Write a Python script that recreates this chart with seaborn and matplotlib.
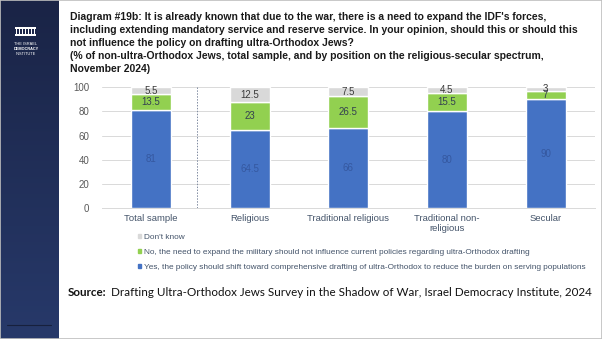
import numpy as np
import pandas as pd
import matplotlib
matplotlib.use("Agg")
import matplotlib.pyplot as plt
from matplotlib.patches import Rectangle
from matplotlib.colors import LinearSegmentedColormap
import seaborn as sns

# Survey results (% of non-ultra-Orthodox Jews)
categories = ["Total sample", "Religious", "Traditional religious",
              "Traditional non-\nreligious", "Secular"]
yes_vals = [81, 64.5, 66, 80, 90]
no_vals = [13.5, 23, 26.5, 15.5, 7]
dont_know_vals = [5.5, 12.5, 7.5, 4.5, 3]

series_labels = [
    "Yes, the policy should shift toward comprehensive drafting of ultra-Orthodox to reduce the burden on serving populations",
    "No, the need to expand the military should not influence current policies regarding ultra-Orthodox drafting",
    "Don't know",
]
y_ticks = [0, 20, 40, 60, 80, 100]

title_text = ("Diagram #19b: It is already known that due to the war, there is a need to expand the IDF's forces,\n"
              "including extending mandatory service and reserve service. In your opinion, should this or should this\n"
              "not influence the policy on drafting ultra-Orthodox Jews?\n"
              "(% of non-ultra-Orthodox Jews, total sample, and by position on the religious-secular spectrum,\n"
              "November 2024)")
source_bold = "Source:"
source_rest = "Drafting Ultra-Orthodox Jews Survey in the Shadow of War, Israel Democracy Institute, 2024"

BLUE = "#4472C4"
GREEN = "#92D050"
GREY = "#D9D9D9"
TEXT_BLUE = "#44546A"

sns.set_theme(style="white")
plt.rcParams["font.family"] = ["Liberation Sans", "DejaVu Sans"]

W, H = 602, 339
fig = plt.figure(figsize=(W / 100, H / 100), dpi=100)
fig.patch.set_facecolor("white")

# ---- left navy sidebar with logo ----
side = fig.add_axes([0, 0, 59 / W, 1])
grad = np.linspace(0, 1, 256).reshape(-1, 1)
navy = LinearSegmentedColormap.from_list("navy", ["#1a2446", "#27396a"])
side.imshow(grad, aspect="auto", cmap=navy, extent=[0, 59, H, 0])
side.set_xlim(0, 59)
side.set_ylim(H, 0)
side.axis("off")
side.add_patch(Rectangle((15, 27), 21, 1.7, color="white", lw=0))
side.add_patch(Rectangle((15, 34.2), 21, 1.5, color="white", lw=0))
for px in np.linspace(16, 33.6, 7):
    side.add_patch(Rectangle((px, 28.7), 1.3, 5.5, color="white", lw=0))
for i, word in enumerate(["THE ISRAEL", "DEMOCRACY", "INSTITUTE"]):
    side.text(26, 44 + i * 5, word, color="white", fontsize=2.8,
              ha="center", va="center", fontweight="bold" if i == 1 else "normal")
side.plot([7, 51], [325, 325], color="#17203d", lw=0.8)

# ---- main chart ----
ax = fig.add_axes([101.6 / W, (H - 208.3) / H, (595 - 101.6) / W, (208.3 - 87.3) / H])
df = pd.DataFrame({"category": categories, "yes": yes_vals,
                   "no": no_vals, "dk": dont_know_vals})
bottom_no = np.array(yes_vals)
bottom_dk = bottom_no + np.array(no_vals)

bw = 0.405
sns.barplot(data=df, x="category", y="yes", color=BLUE, width=bw,
            saturation=1, ax=ax, zorder=2)
c_yes = ax.containers[-1]
sns.barplot(data=df, x="category", y="no", color=GREEN, width=bw,
            saturation=1, ax=ax, bottom=bottom_no, zorder=2)
c_no = ax.containers[-1]
sns.barplot(data=df, x="category", y="dk", color=GREY, width=bw,
            saturation=1, ax=ax, bottom=bottom_dk, zorder=2)
c_dk = ax.containers[-1]

ax.bar_label(c_yes, labels=[f"{v:g}" for v in yes_vals], label_type="center",
             fontsize=7, color="#3558a0")
ax.bar_label(c_no, labels=[f"{v:g}" for v in no_vals], label_type="center",
             fontsize=7, color="#333f50")
ax.bar_label(c_dk, labels=[f"{v:g}" for v in dont_know_vals], label_type="center",
             fontsize=7, color="#3b3b3b")

ax.set_ylim(0, 100)
ax.set_xlim(-0.5, len(categories) - 0.5)
ax.set_yticks(y_ticks)
ax.yaxis.grid(True, color="#D9D9D9", lw=0.7, zorder=0)
ax.set_axisbelow(True)
for s in ["top", "right", "left"]:
    ax.spines[s].set_visible(False)
ax.spines["bottom"].set_color("#D9D9D9")
ax.spines["bottom"].set_linewidth(0.7)
ax.tick_params(axis="y", length=0, pad=9, labelsize=7, labelcolor="#595959")
ax.tick_params(axis="x", length=0, pad=4, labelsize=6.8, labelcolor=TEXT_BLUE)
ax.set_xlabel("")
ax.set_ylabel("")
ax.axvline(0.463, ymin=0, ymax=1, color="#7f8aa0", lw=0.7, ls=(0, (1.5, 1.5)), zorder=1)

# legend, listed top-down as Don't know / No / Yes
handles = [Rectangle((0, 0), 1, 1, color=GREY), Rectangle((0, 0), 1, 1, color=GREEN),
           Rectangle((0, 0), 1, 1, color=BLUE)]
leg = fig.legend(handles, series_labels[::-1], loc="upper left",
                 bbox_to_anchor=(138 / W, 1 - 234 / H), frameon=False,
                 fontsize=5.95, handlelength=0.4, handleheight=0.4,
                 handletextpad=0.3, labelspacing=0.98, borderpad=0, borderaxespad=0)
for t in leg.get_texts():
    t.set_color(TEXT_BLUE)

# title, sized so its widest line spans x = 70..580
title = fig.text(70 / W, 1 - 12.5 / H, title_text, ha="left", va="top", fontsize=7.0,
                 fontweight="bold", color="#1a1a1a", linespacing=1.36)
fig.canvas.draw()
tw = title.get_window_extent().width
title.set_fontsize(7.0 * 510 / tw)

# source line
src_size = 8.2
t1 = fig.text(68 / W, 1 - 292 / H, source_bold, ha="left", va="center",
              fontsize=src_size, fontweight="bold", color="#111111", family=["Lato", "DejaVu Sans"])
fig.canvas.draw()
bb = t1.get_window_extent()
t2 = fig.text((bb.x1 + 4) / W, 1 - 292 / H, source_rest, ha="left", va="center",
              fontsize=src_size, color="#111111", family=["Lato", "DejaVu Sans"])
fig.canvas.draw()
total = t2.get_window_extent().x1 - 68
scale = 520 / total
t1.set_fontsize(src_size * scale)
t2.set_fontsize(src_size * scale)
fig.canvas.draw()
bb = t1.get_window_extent()
t2.set_x((bb.x1 + 4) / W)

# thin frame round the slide
fig.patches.append(Rectangle((0, 0), 1, 1, transform=fig.transFigure, fill=False,
                             edgecolor="#BFBFBF", lw=1.2))

fig.savefig("out.png", dpi=100)
